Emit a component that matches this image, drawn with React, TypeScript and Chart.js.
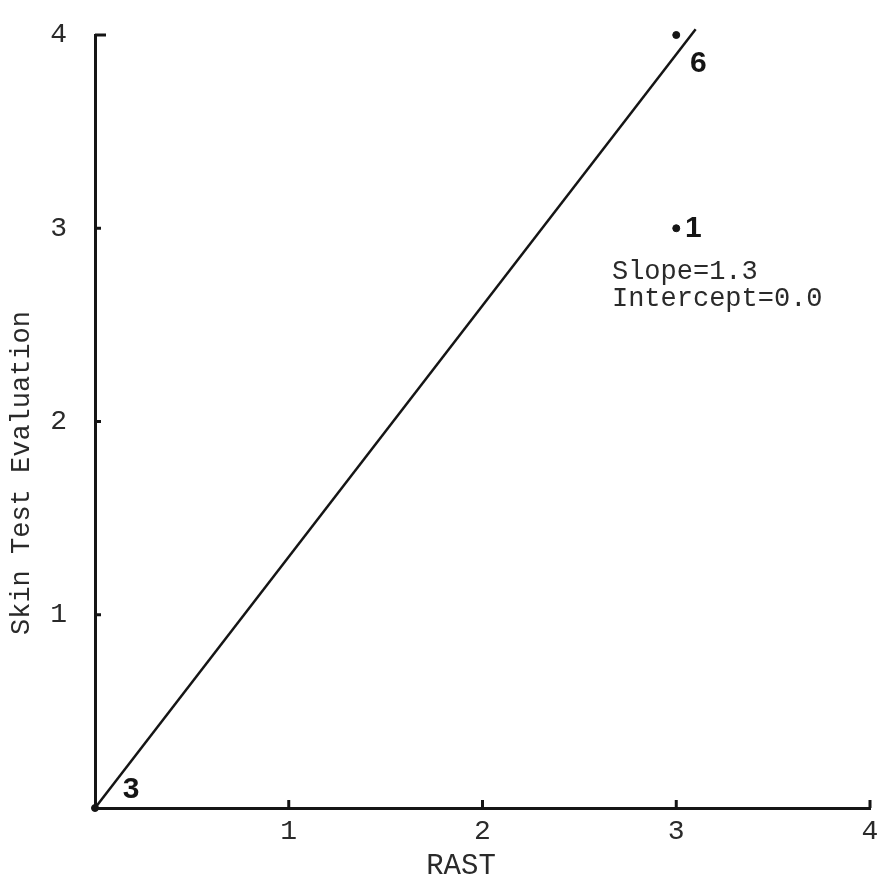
import { useEffect, useRef } from "react";
import { Chart, registerables } from "chart.js";

Chart.register(...registerables);

// ---- data ----
const pointX = [0, 3, 3];
const pointY = [0, 4, 3];
const pointCounts = ["3", "6", "1"];
const fitLineX = [0, 3.1];
const fitLineY = [0, 4.03];
const xTickValues = [1, 2, 3, 4];
const yTickValues = [1, 2, 3, 4];
const annotationLines = ["Slope=1.3", "Intercept=0.0"];
const xTitle = "RAST";
const yTitle = "Skin Test Evaluation";

// ---- style ----
const INK = "#151515";
const TEXT = "#2a2a2a";
const MONO = "'Liberation Mono', 'DejaVu Sans Mono', monospace";
const SANS = "'Liberation Sans', Arial, sans-serif";
const labelOffsets = [
  { dx: 36, dy: -18 },
  { dx: 22, dy: 29 },
  { dx: 17, dy: 0 },
];
const annotationAnchor = { x: 2.668, y: 2.774 };

const zeroPad = (s: any) => {
  s.paddingLeft = 0;
  s.paddingRight = 0;
  s.paddingTop = 0;
  s.paddingBottom = 0;
};

const overlayPlugin = {
  id: "overlay",
  afterDraw(chart: any) {
    const ctx = chart.ctx as CanvasRenderingContext2D;
    const xs = chart.scales.x;
    const ys = chart.scales.y;
    const x0 = xs.getPixelForValue(0);
    const y0 = ys.getPixelForValue(0);
    ctx.save();
    // inner tick marks
    ctx.strokeStyle = INK;
    ctx.lineWidth = 3;
    ctx.lineCap = "butt";
    yTickValues.forEach((v) => {
      const py = ys.getPixelForValue(v);
      const len = v === 4 ? 11 : 6;
      ctx.beginPath();
      ctx.moveTo(x0, py);
      ctx.lineTo(x0 + len, py);
      ctx.stroke();
    });
    xTickValues.forEach((v) => {
      const px = xs.getPixelForValue(v);
      ctx.beginPath();
      ctx.moveTo(px, y0);
      ctx.lineTo(px, y0 - 8);
      ctx.stroke();
    });
    // point count labels
    const meta = chart.getDatasetMeta(1);
    ctx.fillStyle = INK;
    ctx.font = `bold 30px ${SANS}`;
    ctx.textAlign = "center";
    ctx.textBaseline = "middle";
    meta.data.forEach((el: any, i: number) => {
      const off = labelOffsets[i] || { dx: 18, dy: 0 };
      ctx.fillText(pointCounts[i], el.x + off.dx, el.y + off.dy);
    });
    // annotation
    ctx.fillStyle = TEXT;
    ctx.font = `27px ${MONO}`;
    ctx.textAlign = "left";
    const ax = xs.getPixelForValue(annotationAnchor.x);
    const ay = ys.getPixelForValue(annotationAnchor.y);
    annotationLines.forEach((t, i) => ctx.fillText(t, ax, ay + i * 27));
    // x title
    ctx.font = `29px ${MONO}`;
    ctx.textAlign = "center";
    ctx.fillText(xTitle, 461, 866);
    // y title
    ctx.font = `27px ${MONO}`;
    ctx.translate(22, 473);
    ctx.rotate(-Math.PI / 2);
    ctx.fillText(yTitle, 0, 0);
    ctx.restore();
  },
};

export default function App() {
  const ref = useRef<HTMLCanvasElement | null>(null);
  useEffect(() => {
    if (!ref.current) return;
    const tickFont = { family: MONO, size: 28 };
    const chart = new Chart(ref.current, {
      type: "scatter",
      data: {
        datasets: [
          {
            type: "line",
            data: fitLineX.map((x, i) => ({ x, y: fitLineY[i] })),
            borderColor: INK,
            borderWidth: 2.5,
            pointRadius: 0,
            fill: false,
            clip: false as any,
          } as any,
          {
            type: "scatter",
            data: pointX.map((x, i) => ({ x, y: pointY[i] })),
            backgroundColor: INK,
            borderColor: INK,
            pointRadius: 3.5,
            clip: false as any,
          } as any,
        ],
      },
      options: {
        animation: false,
        responsive: false,
        layout: { padding: { top: 35, right: 7, left: 0, bottom: 0 } },
        plugins: { legend: { display: false }, tooltip: { enabled: false } },
        scales: {
          x: {
            type: "linear",
            min: 0,
            max: 4,
            afterBuildTicks: (s: any) => {
              s.ticks = xTickValues.map((v) => ({ value: v }));
            },
            afterFit: (s: any) => {
              s.height = 76;
              zeroPad(s);
            },
            grid: { display: false, drawTicks: false },
            border: { display: true, color: INK, width: 3 },
            ticks: { font: tickFont, color: TEXT, padding: 7, maxRotation: 0 },
          },
          y: {
            type: "linear",
            min: 0,
            max: 4,
            afterBuildTicks: (s: any) => {
              s.ticks = yTickValues.map((v) => ({ value: v }));
            },
            afterFit: (s: any) => {
              s.width = 95;
              zeroPad(s);
            },
            grid: { display: false, drawTicks: false },
            border: { display: true, color: INK, width: 3 },
            ticks: { font: tickFont, color: TEXT, padding: 28 },
          },
        },
      },
      plugins: [overlayPlugin],
    } as any);
    return () => chart.destroy();
  }, []);
  return (
    <div style={{ position: "absolute", left: 0, top: 0, width: 877, height: 884, background: "#fff" }}>
      <canvas ref={ref} width={877} height={884} />
    </div>
  );
}
